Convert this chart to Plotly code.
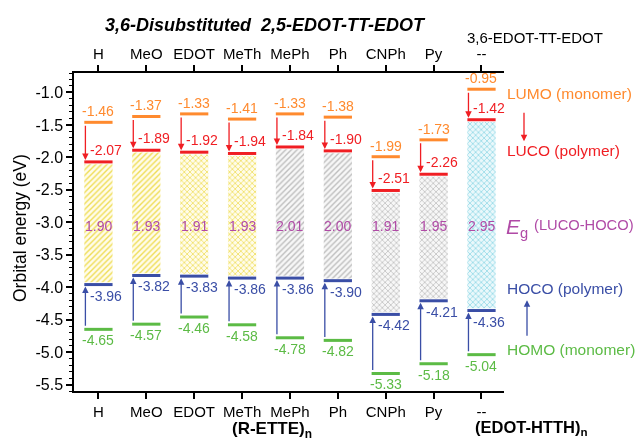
import plotly.graph_objects as go

cats = ["H", "MeO", "EDOT", "MeTh", "MePh", "Ph", "CNPh", "Py", "--"]
lumo = [-1.46, -1.37, -1.33, -1.41, -1.33, -1.38, -1.99, -1.73, -0.95]
luco = [-2.07, -1.89, -1.92, -1.94, -1.84, -1.90, -2.51, -2.26, -1.42]
hoco = [-3.96, -3.82, -3.83, -3.86, -3.86, -3.90, -4.42, -4.21, -4.36]
homo = [-4.65, -4.57, -4.46, -4.58, -4.78, -4.82, -5.33, -5.18, -5.04]
eg = [1.90, 1.93, 1.91, 1.93, 2.01, 2.00, 1.91, 1.95, 2.95]
yticks = [-1.0, -1.5, -2.0, -2.5, -3.0, -3.5, -4.0, -4.5, -5.0, -5.5]
ytick_labels = ["-1.0", "-1.5", "-2.0", "-2.5", "-3.0", "-3.5", "-4.0", "-4.5", "-5.0", "-5.5"]
patterns = ["/", "/", "x", "x", "/", "/", "x", "x", "x"]
groups = ["y", "y", "y", "y", "g", "g", "g", "g", "c"]

C_LUMO = "#ff8a2e"
C_LUCO = "#f01e23"
C_HOCO = "#3a4ea6"
C_HOMO = "#5cbb45"
C_EG = "#b04aa6"
FONT = "Liberation Sans, Arial, sans-serif"

fills = {
    "y": dict(bg="#fffcea", fg="#efdd55"),
    "g": dict(bg="#f7f7f7", fg="#bdbdbd"),
    "c": dict(bg="#eaf8fb", fg="#8ed6e6"),
}

xs = list(range(1, len(cats) + 1))
HW = 0.295  # half width of a level bar
INSET = 0.035

fig = go.Figure()

# band-gap bars
for i, x in enumerate(xs):
    f = fills[groups[i]]
    top = luco[i] - INSET
    bot = hoco[i] + INSET
    fig.add_trace(go.Bar(
        x=[x], y=[top - bot], base=[bot], width=2 * HW,
        marker=dict(color=f["bg"], line=dict(width=0),
                    pattern=dict(shape=patterns[i], fgcolor=f["fg"], bgcolor=f["bg"],
                                 size=4, solidity=0.34, fillmode="replace")),
        showlegend=False, hoverinfo="skip"))


def seg_xy(vals):
    px, py = [], []
    for x, v in zip(xs, vals):
        px += [x - HW, x + HW, None]
        py += [v, v, None]
    return px, py


for vals, col in [(lumo, C_LUMO), (luco, C_LUCO), (hoco, C_HOCO), (homo, C_HOMO)]:
    px, py = seg_xy(vals)
    fig.add_trace(go.Scatter(x=px, y=py, mode="lines", line=dict(color=col, width=3),
                             showlegend=False, hoverinfo="skip"))

# invisible trace for top axis
fig.add_trace(go.Scatter(x=xs, y=luco, xaxis="x2", mode="markers", opacity=0,
                         showlegend=False, hoverinfo="skip"))

ann = []
AX = 0.272
for i, x in enumerate(xs):
    # arrows
    ann.append(dict(x=x - AX, y=luco[i], ax=x - AX, ay=lumo[i], xref="x", yref="y",
                    axref="x", ayref="y", text="", showarrow=True, arrowhead=2,
                    arrowsize=1, arrowwidth=1.3, arrowcolor=C_LUCO, standoff=2, startstandoff=2))
    ann.append(dict(x=x - AX, y=hoco[i], ax=x - AX, ay=homo[i], xref="x", yref="y",
                    axref="x", ayref="y", text="", showarrow=True, arrowhead=2,
                    arrowsize=1, arrowwidth=1.3, arrowcolor=C_HOCO, standoff=2, startstandoff=2))
    # labels
    ann.append(dict(x=x, y=lumo[i], xref="x", yref="y", text=f"{lumo[i]:.2f}", showarrow=False,
                    yshift=11, font=dict(color=C_LUMO, size=14, family=FONT)))
    ann.append(dict(x=x, y=luco[i], xref="x", yref="y", text=f"{luco[i]:.2f}", showarrow=False,
                    yshift=12, xshift=8, font=dict(color=C_LUCO, size=14, family=FONT)))
    ann.append(dict(x=x, y=hoco[i], xref="x", yref="y", text=f"{hoco[i]:.2f}", showarrow=False,
                    yshift=-11, xshift=8, font=dict(color=C_HOCO, size=14, family=FONT)))
    ann.append(dict(x=x, y=homo[i], xref="x", yref="y", text=f"{homo[i]:.2f}", showarrow=False,
                    yshift=-11, font=dict(color=C_HOMO, size=14, family=FONT)))
    ann.append(dict(x=x, y=-3.05, xref="x", yref="y", text=f"{eg[i]:.2f}", showarrow=False,
                    font=dict(color=C_EG, size=14, family=FONT)))

# legend-like key on the right
LX = 1.0023
key = [
    ("LUMO (monomer)", -1.015, C_LUMO),
    ("LUCO (polymer)", -1.89, C_LUCO),
    ("HOCO (polymer)", -4.02, C_HOCO),
    ("HOMO (monomer)", -4.96, C_HOMO),
]
for t, yv, c in key:
    ann.append(dict(x=LX, y=yv, xref="paper", yref="y", text=t, showarrow=False,
                    xanchor="left", yanchor="middle", font=dict(color=c, size=15.5, family=FONT)))
ann.append(dict(x=1.0, y=-3.05, xref="paper", yref="y", text="<i>E</i><sub>g</sub>",
                showarrow=False, xanchor="left", yanchor="middle", yshift=-2,
                font=dict(color=C_EG, size=21, family=FONT)))
ann.append(dict(x=1.065, y=-3.045, xref="paper", yref="y", text="(LUCO-HOCO)",
                showarrow=False, xanchor="left", yanchor="middle",
                font=dict(color=C_EG, size=14.7, family=FONT)))
ann.append(dict(x=1.0465, y=-1.75, ax=0, ay=-30, xref="paper", yref="y",
                axref="pixel", ayref="pixel", text="", showarrow=True, arrowhead=2, arrowsize=1,
                arrowwidth=1.3, arrowcolor=C_LUCO))
ann.append(dict(x=1.0535, y=-4.20, ax=0, ay=37, xref="paper", yref="y",
                axref="pixel", ayref="pixel", text="", showarrow=True, arrowhead=2, arrowsize=1,
                arrowwidth=1.3, arrowcolor=C_HOCO))


# titles / group labels
def paper_text(px, py, text, size, angle=0):
    return dict(x=(px - 74) / 430, y=(391 - py) / 318, xref="paper", yref="paper",
                text=text, showarrow=False, xanchor="center", yanchor="middle",
                textangle=angle, font=dict(color="black", size=size, family=FONT))


ann.append(paper_text(265, 25, "<b><i>3,6-Disubstituted\u00a0 2,5-EDOT-TT-EDOT</i></b>", 18))
ann.append(paper_text(535, 38, "3,6-EDOT-TT-EDOT", 15))
ann.append(paper_text(272, 430, "<b>(R-ETTE)<sub>n</sub></b>", 17))
ann.append(paper_text(531, 428, "<b>(EDOT-HTTH)<sub>n</sub></b>", 16.5))
ann.append(paper_text(20, 228, "Orbital energy (eV)", 17.5, angle=-90))

axis_common = dict(
    range=[0.49, 9.47], tickmode="array", tickvals=xs, ticktext=cats,
    ticks="outside", ticklen=6, tickwidth=1.5, tickcolor="black",
    showline=True, linecolor="black", linewidth=1.5, showgrid=False, zeroline=False,
    tickfont=dict(size=15, color="black", family=FONT),
)

fig.update_layout(
    width=638, height=442,
    margin=dict(l=74, r=134, t=73, b=51),
    paper_bgcolor="white", plot_bgcolor="white",
    barmode="overlay",
    showlegend=False,
    xaxis=dict(**axis_common, side="bottom"),
    xaxis2=dict(**axis_common, side="top", overlaying="x", anchor="y"),
    yaxis=dict(range=[-5.6, -0.7], tickmode="array", tickvals=yticks, ticktext=ytick_labels,
               ticks="outside", ticklen=6, tickwidth=1.5, tickcolor="black",
               minor=dict(ticks="outside", ticklen=3, tickwidth=1, tickcolor="black",
                          tickmode="linear", dtick=0.1, tick0=-5.5),
               showline=True, linecolor="black", linewidth=1.5, showgrid=False, zeroline=False,
               tickfont=dict(size=16, color="black", family=FONT)),
    annotations=ann,
)

fig.write_html("out.html")
